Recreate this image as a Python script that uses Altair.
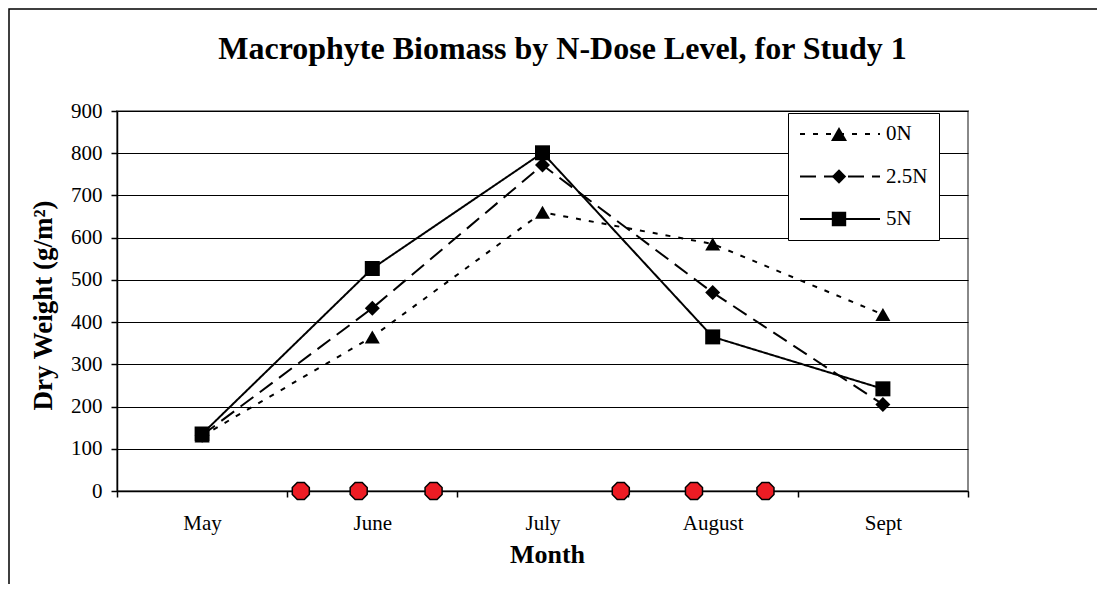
import json
import pandas as pd
import altair as alt

# ---- data ----
months = ["May", "June", "July", "August", "Sept"]
series = ["0N", "2.5N", "5N"]
biomass_0N = [130, 365, 660, 585, 418]
biomass_25N = [132, 433, 772, 470, 205]
biomass_5N = [135, 527, 801, 365, 242]
dose_positions = [0.58, 0.92, 1.36, 2.46, 2.89, 3.31]   # N-dose events (month units)
y_ticks = [0, 100, 200, 300, 400, 500, 600, 700, 800, 900]
x_ticks = [-0.5, 0.5, 1.5, 2.5, 3.5, 4.5]                 # category boundaries

# ---- styles ----
FONT = "Liberation Serif"
PLOT_W, PLOT_H = 851, 380
dashes = {"0N": [5, 8], "2.5N": [16, 8], "5N": [1, 0]}
marker = {"0N": "triangle-up", "2.5N": "diamond", "5N": "square"}
legend_marker_paths = [
    "M0,-0.173L0.2,0.173L-0.2,0.173Z",
    "M-0.18,0L0,-0.18L0.18,0L0,0.18Z",
    "M-0.18,-0.18L0.18,-0.18L0.18,0.18L-0.18,0.18Z",
]
octagon = ("M-0.383,-0.924L0.383,-0.924L0.924,-0.383L0.924,0.383L0.383,0.924"
           "L-0.383,0.924L-0.924,0.383L-0.924,-0.383Z")

rows = []
for s, vals in zip(series, [biomass_0N, biomass_25N, biomass_5N]):
    for i, v in enumerate(vals):
        rows.append({"series": s, "month_idx": i, "value": v})
df = pd.DataFrame(rows)
dose_df = pd.DataFrame({"pos": dose_positions, "value": [0] * len(dose_positions)})

x_scale = alt.Scale(domain=[-0.5, 4.5], nice=False, zero=False)
y_scale = alt.Scale(domain=[0, 900], nice=False)

x_axis = alt.Axis(
    values=x_ticks,
    labelExpr=f"datum.value < 4 ? {json.dumps(months)}[datum.value + 0.5] : ''",
    labelOffset=PLOT_W / len(months) / 2,
    grid=False, domainColor="black", domainWidth=1.5,
    tickColor="black", tickSize=6, tickWidth=1.5,
    labelFont=FONT, labelFontSize=21, labelColor="black", labelPadding=15,
    labelFlush=False, labelOverlap=False, labelAlign="center",
    title="Month", titleFont=FONT, titleFontSize=26, titleFontWeight="bold",
    titleColor="black", titleX=430, titleY=63, titleBaseline="middle", titleAlign="center",
)
y_axis = alt.Axis(
    values=y_ticks, grid=True, gridColor="black", gridWidth=1,
    domainColor="black", domainWidth=1.5,
    tickColor="black", tickSize=6, tickWidth=1.5,
    labelFont=FONT, labelFontSize=21, labelColor="black", labelPadding=9,
    title="Dry Weight (g/m²)", titleFont=FONT, titleFontSize=27, titleFontWeight="bold",
    titleColor="black", titleX=-74, titleY=194, titleAngle=270,
    titleBaseline="middle", titleAlign="center",
)

base = alt.Chart(df).encode(
    x=alt.X("month_idx:Q", scale=x_scale, axis=x_axis),
    y=alt.Y("value:Q", scale=y_scale, axis=y_axis),
)

layers = []
for s in series:
    layers.append(
        base.transform_filter(alt.datum.series == s)
        .mark_line(color="black", strokeWidth=2, strokeDash=dashes[s])
    )
for s in series:
    layers.append(
        base.transform_filter(alt.datum.series == s)
        .mark_point(shape=marker[s], filled=True, color="black", opacity=1, size=225)
    )

dose = alt.Chart(dose_df).mark_point(
    shape=octagon, filled=True, fill="#ED1C24", stroke="black",
    strokeWidth=1.5, size=340, opacity=1
).encode(
    x=alt.X("pos:Q", scale=x_scale, axis=x_axis),
    y=alt.Y("value:Q", scale=y_scale, axis=y_axis),
)
layers.append(dose)

# legend: dashed line samples (line legend) with the markers overlaid (marker legend)
common_leg = dict(
    title=None, orient="none", legendX=671, legendY=2,
    padding=11, clipHeight=20, rowPadding=21.5,
    symbolSize=6400, symbolOffset=0, symbolOpacity=1,
    labelFont=FONT, labelFontSize=21, labelOffset=5,
)
line_leg = alt.Legend(
    **common_leg, labelColor="black", symbolStrokeWidth=2,
    strokeColor="black", fillColor="white", zindex=1,
)
marker_leg = alt.Legend(
    **common_leg, labelColor="transparent", symbolStrokeWidth=0,
    symbolFillColor="black", zindex=2,
)
legend_lines = base.transform_filter("false").mark_line(
    color="black", strokeWidth=2
).encode(
    strokeDash=alt.StrokeDash("series:N",
                              scale=alt.Scale(domain=series, range=[dashes[s] for s in series]),
                              legend=line_leg),
)
legend_markers = base.transform_filter("false").mark_point(
    filled=True, color="black", opacity=1, size=6400
).encode(
    shape=alt.Shape("series:N", scale=alt.Scale(domain=series, range=legend_marker_paths),
                    legend=marker_leg),
)
layers += [legend_lines, legend_markers]

frame = alt.Chart(pd.DataFrame({"f": [0]})).mark_rect(
    fill="white", fillOpacity=0, stroke="black", strokeWidth=1.5
).encode(x=alt.value(-108), y=alt.value(-102), x2=alt.value(995), y2=alt.value(490))
layers.append(frame)

chart = alt.layer(*layers).resolve_legend(
    shape="independent", strokeDash="independent"
).properties(
    width=PLOT_W, height=PLOT_H,
    padding={"left": 109, "top": 103, "right": 129, "bottom": 93},
    autosize=alt.AutoSizeParams(type="none"),
    title=alt.TitleParams(
        "Macrophyte Biomass by N-Dose Level, for Study 1",
        font=FONT, fontSize=32, fontWeight="bold", color="black",
        anchor="middle", baseline="alphabetic", dx=20, offset=0, dy=83,
    ),
).configure_view(stroke="#888888", strokeWidth=2)

chart.save("out.html", embed_options={"renderer": "svg", "actions": False})
